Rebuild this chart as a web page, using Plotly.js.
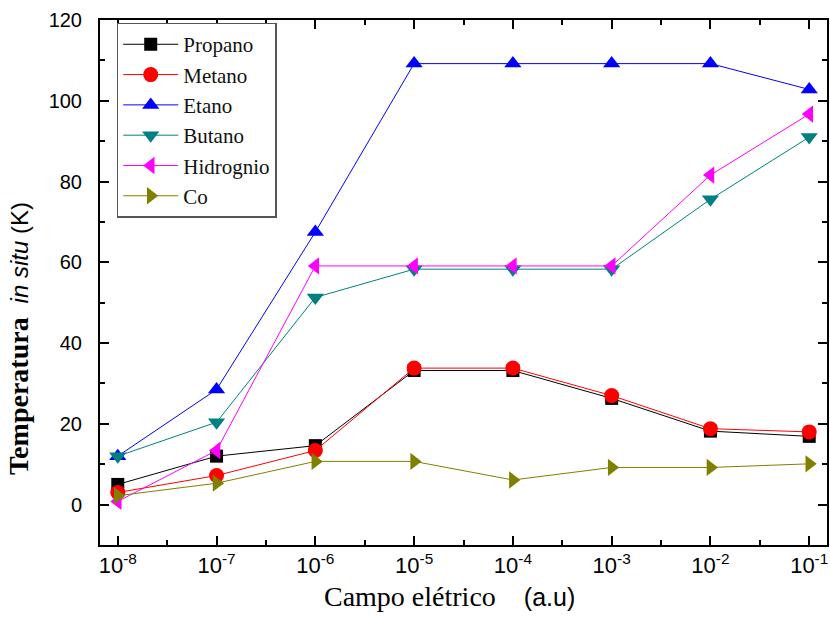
<!DOCTYPE html>
<html>
<head>
<meta charset="utf-8">
<script src="https://cdn.plot.ly/plotly-3.0.1.min.js"></script>
<style>html,body{margin:0;padding:0;background:#fff;}#chart{width:830px;height:619px;}</style>
</head>
<body>
<div id="chart"></div>
<script>
const campo = [1e-8, 1e-7, 1e-6, 1e-5, 1e-4, 1e-3, 1e-2, 1e-1];
const xTickVals = [1e-8, 1e-7, 1e-6, 1e-5, 1e-4, 1e-3, 1e-2, 1e-1];
const xTickText = ['10<sup>-8</sup>','10<sup>-7</sup>','10<sup>-6</sup>','10<sup>-5</sup>','10<sup>-4</sup>','10<sup>-3</sup>','10<sup>-2</sup>','10<sup>-1</sup>'];
const xMinorVals = [3.162e-9, 3.162e-8, 3.162e-7, 3.162e-6, 3.162e-5, 3.162e-4, 3.162e-3, 3.162e-2];
const yTickVals = [0, 20, 40, 60, 80, 100, 120];
const yMinorVals = [-10, 10, 30, 50, 70, 90, 110];

const propano   = [5.0, 12.0, 14.6, 33.2, 33.2, 26.3, 18.2, 16.9];
const metano    = [3.0, 7.2, 13.4, 33.8, 33.8, 27.0, 18.8, 18.0];
const etano     = [12.0, 28.5, 67.5, 109.2, 109.2, 109.2, 109.2, 102.8];
const butano    = [12.0, 20.4, 51.3, 58.3, 58.3, 58.3, 75.6, 91.0];
const hidrognio = [0.8, 13.4, 59.1, 59.1, 59.1, 59.1, 81.6, 96.7];
const co        = [2.2, 5.3, 10.7, 10.7, 6.1, 9.2, 9.2, 10.1];

const names   = ['Propano','Metano','Etano','Butano','Hidrognio','Co'];
const series  = [propano, metano, etano, butano, hidrognio, co];
const colors  = ['#000000','#ff0000','#0000ff','#008080','#ff00ff','#808000'];
const symbols = ['square','circle','triangle-up','triangle-down','triangle-left','triangle-right'];
const sizes   = [13, 15, 15, 15, 15, 15];

const traces = series.map((s, i) => ({
  x: campo, y: s, name: names[i], type: 'scatter', mode: 'lines+markers',
  line: {color: colors[i], width: 1},
  marker: {symbol: symbols[i], color: colors[i], size: sizes[i], line: {width: 0}}
}));

const SANS = 'Liberation Sans, Arial, sans-serif';
const SERIF = 'Liberation Serif, Times New Roman, serif';

const axisCommon = {
  showline: true, linecolor: '#000', linewidth: 2, mirror: 'ticks',
  ticks: 'inside', ticklen: 9, tickwidth: 2, tickcolor: '#000',
  showgrid: false, zeroline: false
};

const yPad = '&nbsp;'.repeat(16);
const xPad = '&nbsp;'.repeat(4);

const layout = {
  width: 830, height: 619,
  margin: {l: 100, r: 3, t: 20, b: 74},
  paper_bgcolor: '#fff', plot_bgcolor: '#fff',
  showlegend: true,
  legend: {
    x: 0.023, y: 0.995, xanchor: 'left', yanchor: 'top',
    bgcolor: '#fff', bordercolor: '#555', borderwidth: 1.5,
    font: {family: SERIF, size: 21, color: '#111'},
    tracegroupgap: 0, itemwidth: 55
  },
  xaxis: Object.assign({}, axisCommon, {
    type: 'log', range: [Math.log10(1e-8) - 0.18, Math.log10(1e-1) + 0.18],
    tickmode: 'array', tickvals: xTickVals, ticktext: xTickText,
    tickfont: {family: SANS, size: 22, color: '#000'},
    minor: {tickmode: 'array', tickvals: xMinorVals, ticks: 'inside', ticklen: 5, tickwidth: 2, tickcolor: '#000'},
    ticklabelstandoff: 0,
    title: {text: 'Campo elétrico&nbsp;&nbsp;&nbsp;&nbsp;<span style="font-family:Liberation Sans, Arial, sans-serif;font-size:25px">(a.u)' + xPad + '</span>',
      font: {family: SERIF, size: 28, color: '#000'}, standoff: 9}
  }),
  yaxis: Object.assign({}, axisCommon, {
    range: [-10, 120], tickmode: 'array', tickvals: yTickVals,
    tickfont: {family: SANS, size: 20, color: '#000'},
    minor: {tickmode: 'array', tickvals: yMinorVals, ticks: 'inside', ticklen: 5, tickwidth: 2, tickcolor: '#000'},
    ticklabelstandoff: 12,
    title: {text: '<b>Temperatura</b>  <i><span style="font-family:Liberation Sans, Arial, sans-serif;font-size:24px">in situ</span></i><span style="font-family:Liberation Sans, Arial, sans-serif;font-size:24px"> (K)</span>' + yPad,
      font: {family: SERIF, size: 28, color: '#000'}, standoff: 12}
  })
};

Plotly.newPlot('chart', traces, layout, {displayModeBar: false, staticPlot: true});
</script>
</body>
</html>
